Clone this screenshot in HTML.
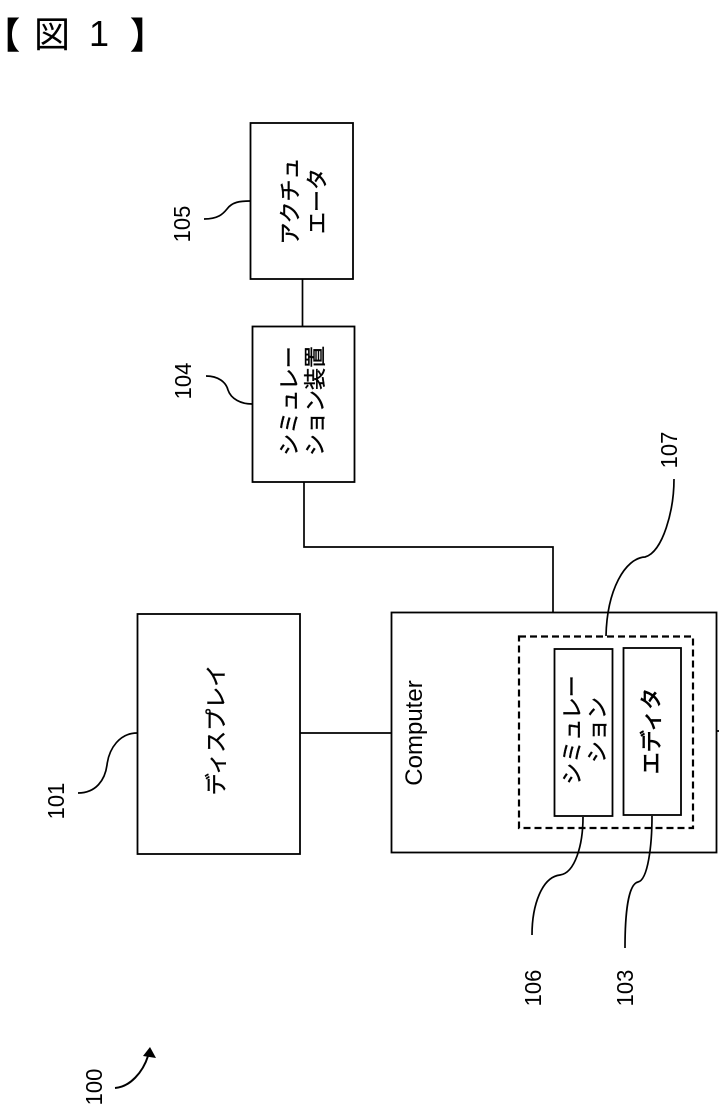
<!DOCTYPE html>
<html lang="ja">
<head>
<meta charset="utf-8">
<style>
html,body{margin:0;padding:0;background:#fff;}
svg{display:block;}
.j{font-family:"Liberation Sans","Noto Sans CJK JP",sans-serif;font-size:22px;text-anchor:middle;fill:#000;stroke:#000;stroke-width:.4;}
.n{font-family:"Liberation Sans",sans-serif;font-size:22px;text-anchor:middle;fill:#000;}
.b{fill:#fff;stroke:#000;stroke-width:1.8;}
.l{fill:none;stroke:#000;stroke-width:1.7;}
</style>
</head>
<body>
<svg width="719" height="1116" viewBox="0 0 719 1116" xmlns="http://www.w3.org/2000/svg">
<rect width="719" height="1116" fill="#fff"/>

<text x="-16" y="48" font-family="'Liberation Sans','Noto Sans CJK JP',sans-serif" font-size="36" font-weight="900">【</text>
<text x="34" y="47" font-family="'Liberation Sans','Noto Sans CJK JP',sans-serif" font-size="36">図</text>
<text x="99" y="46" font-family="'Liberation Sans',sans-serif" font-size="36" text-anchor="middle">1</text>
<text x="130" y="48" font-family="'Liberation Sans','Noto Sans CJK JP',sans-serif" font-size="36" font-weight="900">】</text>

<path class="l" d="M302.5 279V327M304 482V547H553V612M300 733H391M716 731H719"/>

<rect class="b" x="250.5" y="123" width="102.5" height="156"/>
<rect class="b" x="252.5" y="326.5" width="102" height="155.5"/>
<rect class="b" x="137.5" y="614" width="162.5" height="240"/>
<rect class="b" x="391.5" y="612.5" width="325" height="240"/>
<rect x="519" y="636.5" width="174" height="191.5" fill="none" stroke="#000" stroke-width="2.2" stroke-dasharray="7 4"/>
<rect class="b" x="554.5" y="649" width="58" height="167"/>
<rect class="b" x="623.5" y="648" width="57.5" height="167"/>

<text class="j" transform="translate(298 201) rotate(-90)">アクチュ</text>
<text class="j" transform="translate(325 201) rotate(-90)">エータ</text>
<text class="j" transform="translate(297 401) rotate(-90)">シミュレー</text>
<text class="j" transform="translate(323 401) rotate(-90)">ション装置</text>
<text class="j" transform="translate(224 730) rotate(-90)">ディスプレイ</text>
<text class="j" transform="translate(580 730) rotate(-90)">シミュレー</text>
<text class="j" transform="translate(605 730) rotate(-90)">ション</text>
<text class="j" transform="translate(659 731) rotate(-90)" style="stroke-width:.7">エディタ</text>
<text transform="translate(422 733) rotate(-90)" font-family="'Liberation Sans',sans-serif" font-size="24" text-anchor="middle">Computer</text>

<text class="n" transform="translate(190 224) rotate(-90) scale(1,1.06)">105</text>
<text class="n" transform="translate(191 381) rotate(-90) scale(1,1.06)">104</text>
<text class="n" transform="translate(677 450) rotate(-90) scale(1,1.06)">107</text>
<text class="n" transform="translate(541 988) rotate(-90) scale(1,1.06)">106</text>
<text class="n" transform="translate(633 988) rotate(-90) scale(1,1.06)">103</text>
<text class="n" transform="translate(64 801) rotate(-90) scale(1,1.06)">101</text>
<text class="n" transform="translate(102 1087) rotate(-90) scale(1,1.06)">100</text>

<path class="l" d="M204 219C218 219 223 214 227 209C232 202 240 201 250 201"/>
<path class="l" d="M206 376C218 376 226 382 228 390C231 399 241 404 252 404"/>
<path class="l" d="M674 479C674 510 663 552 645 557C625 558 607 590 606 636"/>
<path class="l" d="M583 817C583 845 575 873 560 875C542 877 532 905 532 935"/>
<path class="l" d="M652 816C652 845 648 880 638 882C628 884 625 915 625 948"/>
<path class="l" d="M78 793C96 793 105 780 107 765C109 748 120 733 137 733"/>
<path d="M115 1088C130 1087 143 1072 148 1056" fill="none" stroke="#000" stroke-width="2"/>
<polygon points="150,1047 143,1056 156,1058" fill="#000"/>
</svg>
</body>
</html>
